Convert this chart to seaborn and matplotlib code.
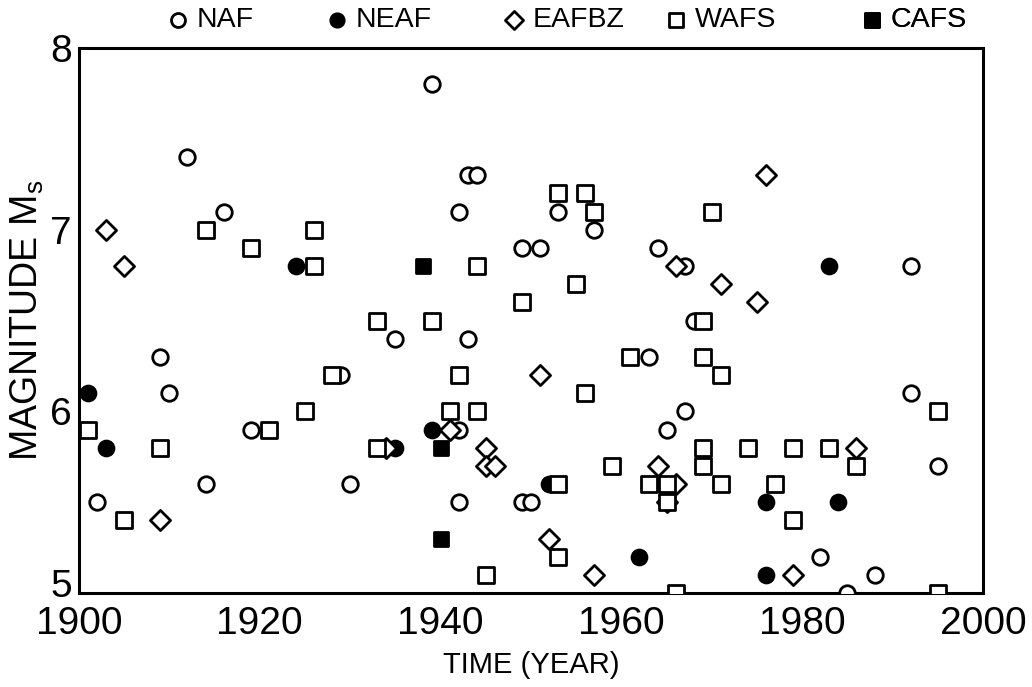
import matplotlib
matplotlib.use('Agg')
import matplotlib.pyplot as plt
from matplotlib import font_manager
import matplotlib.transforms as mtransforms
import seaborn as sns
import pandas as pd

# ---------------- data ----------------
naf_year = [1902, 1909, 1910, 1912, 1914, 1916, 1919, 1929, 1930, 1935, 1939, 1942,
            1942, 1942, 1943, 1943, 1944, 1949, 1950, 1949, 1951, 1953, 1957, 1963,
            1964, 1965, 1967, 1967, 1968, 1982, 1985, 1988, 1992, 1992, 1995]
naf_mag = [5.5, 6.3, 6.1, 7.4, 5.6, 7.1, 5.9, 6.2, 5.6, 6.4, 7.8, 5.5,
           7.1, 5.9, 6.4, 7.3, 7.3, 5.5, 5.5, 6.9, 6.9, 7.1, 7.0, 6.3,
           6.9, 5.9, 6.0, 6.8, 6.5, 5.2, 5.0, 5.1, 6.8, 6.1, 5.7]

neaf_year = [1901, 1903, 1924, 1935, 1939, 1952, 1962, 1976, 1976, 1983, 1984]
neaf_mag = [6.1, 5.8, 6.8, 5.8, 5.9, 5.6, 5.2, 5.5, 5.1, 6.8, 5.5]

eafbz_year = [1903, 1905, 1909, 1934, 1941, 1945, 1945, 1946, 1951, 1952, 1957,
              1964, 1965, 1966, 1966, 1971, 1975, 1976, 1979, 1986]
eafbz_mag = [7.0, 6.8, 5.4, 5.8, 5.9, 5.8, 5.7, 5.7, 6.2, 5.3, 5.1,
             5.7, 5.5, 5.6, 6.8, 6.7, 6.6, 7.3, 5.1, 5.8]

wafs_year = [1901, 1905, 1909, 1914, 1919, 1921, 1925, 1926, 1926, 1928, 1933, 1933,
             1939, 1941, 1942, 1944, 1944, 1945, 1949, 1953, 1953, 1953, 1955, 1956,
             1956, 1957, 1959, 1961, 1963, 1965, 1965, 1966, 1969, 1969, 1969, 1969,
             1970, 1971, 1971, 1974, 1977, 1979, 1979, 1983, 1986, 1995, 1995]
wafs_mag = [5.9, 5.4, 5.8, 7.0, 6.9, 5.9, 6.0, 7.0, 6.8, 6.2, 6.5, 5.8,
            6.5, 6.0, 6.2, 6.0, 6.8, 5.1, 6.6, 7.2, 5.6, 5.2, 6.7, 7.2,
            6.1, 7.1, 5.7, 6.3, 5.6, 5.6, 5.5, 5.0, 6.5, 6.3, 5.8, 5.7,
            7.1, 6.2, 5.6, 5.8, 5.6, 5.8, 5.4, 5.8, 5.7, 6.0, 5.0]

cafs_year = [1938, 1940, 1940]
cafs_mag = [6.8, 5.8, 5.3]

groups = ['NAF', 'NEAF', 'EAFBZ', 'WAFS', 'CAFS']
x_ticks = [1900, 1920, 1940, 1960, 1980, 2000]
y_ticks = [5, 6, 7, 8]

frames = []
for name, yrs, mags in [('NAF', naf_year, naf_mag), ('NEAF', neaf_year, neaf_mag),
                        ('EAFBZ', eafbz_year, eafbz_mag), ('WAFS', wafs_year, wafs_mag),
                        ('CAFS', cafs_year, cafs_mag)]:
    frames.append(pd.DataFrame({'year': yrs, 'mag': mags, 'region': name}))
df = pd.concat(frames, ignore_index=True)

# ---------------- style ----------------
sns.set_theme(style='white')
names = {f.name for f in font_manager.fontManager.ttflist}
if 'Liberation Sans Narrow' in names:
    fam = 'Liberation Sans Narrow'
    k = 1.15
else:
    fam = 'Liberation Sans'
    k = 1.0
plt.rcParams['font.family'] = [fam, 'DejaVu Sans']

fig = plt.figure(figsize=(10.32, 6.87), dpi=100)
ax = fig.add_axes([79 / 1032, 1 - 593 / 687, 904 / 1032, 545 / 687])

styles = {
    'NAF':   dict(marker='o', color='white'),
    'NEAF':  dict(marker='o', color='black'),
    'EAFBZ': dict(marker='D', color='white'),
    'WAFS':  dict(marker='s', color='white'),
    'CAFS':  dict(marker='s', color='black'),
}
sizes = {'NAF': 125, 'NEAF': 115, 'EAFBZ': 105, 'WAFS': 125, 'CAFS': 115}

for g in groups:
    sub = df[df['region'] == g]
    sns.scatterplot(data=sub, x='year', y='mag', ax=ax, label=g,
                    marker=styles[g]['marker'], color=styles[g]['color'],
                    edgecolor='black', linewidth=2.0, s=sizes[g], zorder=3,
                    legend=False)

ax.set_xlim(1900, 2000)
ax.set_ylim(5, 8)
ax.set_xticks(x_ticks)
ax.set_yticks(y_ticks)
ax.set_xticklabels([str(t) for t in x_ticks])
ax.set_yticklabels([str(t) for t in y_ticks])
ax.tick_params(axis='both', length=0, labelsize=28 * k, colors='black')
ax.tick_params(axis='x', pad=9)
ax.tick_params(axis='y', pad=5)
# nudge the lowest y label up so it does not collide with "1900"
lab5 = ax.get_yticklabels()[0]
lab5.set_transform(lab5.get_transform() +
                   mtransforms.ScaledTranslation(0, 10 / 100, fig.dpi_scale_trans))
for sp in ax.spines.values():
    sp.set_visible(True)
    sp.set_color('black')
    sp.set_linewidth(2.2)
ax.grid(False)

ax.set_xlabel('TIME (YEAR)', fontsize=21 * k, color='black')
ax.set_ylabel(r'MAGNITUDE M$_\mathregular{s}$', fontsize=27 * k, color='black')
ax.xaxis.set_label_coords(0.5, -0.132)
ax.xaxis.label.set_va('center')
ax.yaxis.set_label_coords(-0.0575, 0.5)
ax.yaxis.label.set_va('center')

# ---------------- legend: one entry per position, like the reference ----------------
handles, labels = ax.get_legend_handles_labels()
hmap = dict(zip(labels, handles))
leg_fs = 20.5 * k
em_px = leg_fs * 100 / 72
marker_px = {'NAF': 178, 'NEAF': 337, 'EAFBZ': 514, 'WAFS': 676, 'CAFS': 872}
for g in groups:
    left = marker_px[g] - 0.4 * em_px
    lg = ax.legend([hmap[g]], [g], loc='center left',
                   bbox_to_anchor=(left / 1032, 1 - 20 / 687),
                   bbox_transform=fig.transFigure, frameon=False,
                   fontsize=leg_fs, handlelength=0.8, handletextpad=0.25,
                   borderpad=0, borderaxespad=0, markerscale=0.9)
    for t in lg.get_texts():
        t.set_color('black')
    ax.add_artist(lg)

fig.savefig('out.png', dpi=100)
